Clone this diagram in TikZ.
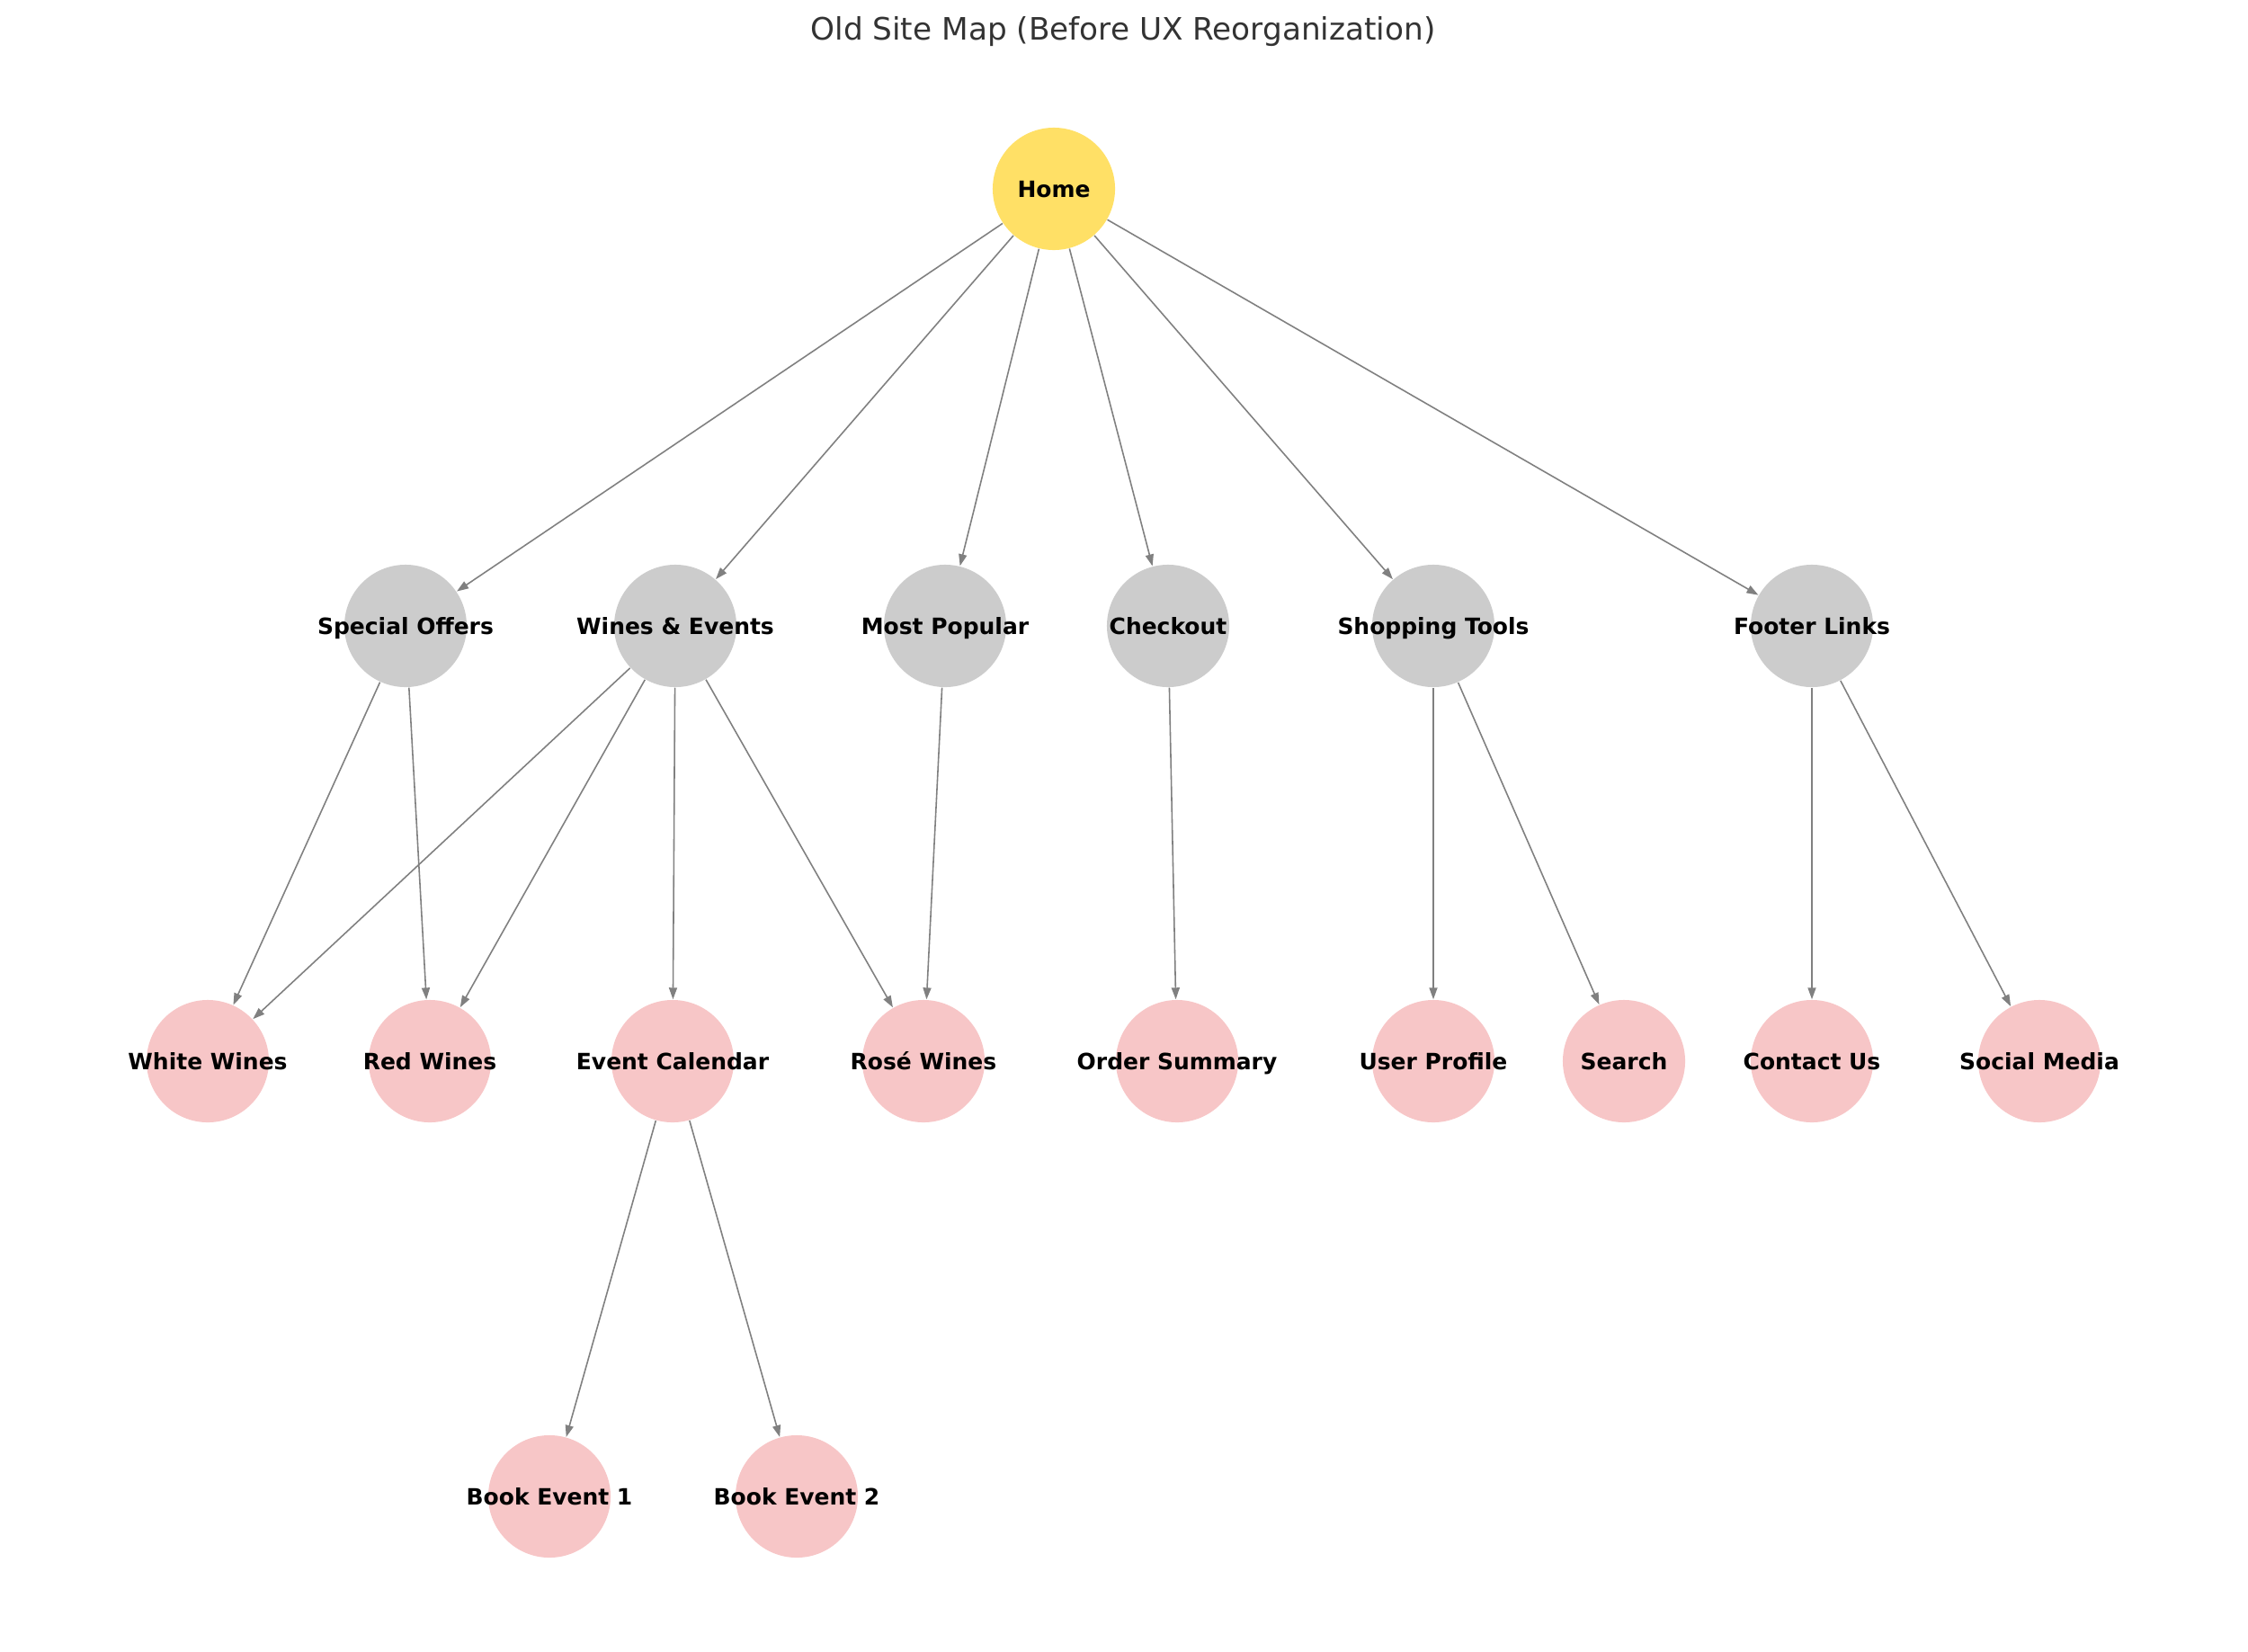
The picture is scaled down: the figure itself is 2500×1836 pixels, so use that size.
\documentclass[tikz,border=0pt]{standalone}
\usepackage{fontspec}
\setmainfont{DejaVu Sans}
\usetikzlibrary{arrows.meta}
\definecolor{homeY}{RGB}{255,224,102}
\definecolor{midG}{RGB}{204,204,204}
\definecolor{leafP}{RGB}{247,198,199}
\definecolor{edgeG}{RGB}{128,128,128}
\definecolor{titleC}{RGB}{51,51,51}
\tikzset{
  pg/.style={circle, minimum size=1.36cm, inner sep=0pt, draw=none, fill=#1},
  every label/.style={font=\fontsize{7.1pt}{8pt}\selectfont\bfseries, text=black,
    inner sep=0pt, text height=2.3mm, text depth=0.35mm},
  link/.style={draw=edgeG, line width=0.45pt, -{Triangle[length=0.13cm, width=0.09cm]}},
}
\begin{document}
\begin{tikzpicture}[x=0.01cm, y=-0.01cm]
\useasboundingbox (0,0) rectangle (2500,1836);
\node[font=\fontsize{9.75pt}{12pt}\selectfont, text=titleC] (title) at (1249,35) {Old Site Map (Before UX Reorganization)};
\node[pg=homeY, label=center:Home] (home) at (1172,210) {};
\node[pg=midG, label=center:Special Offers] (so) at (451,696) {};
\node[pg=midG, label=center:Wines \& Events] (we) at (751,696) {};
\node[pg=midG, label=center:Most Popular] (mp) at (1051,696) {};
\node[pg=midG, label=center:Checkout] (co) at (1299,696) {};
\node[pg=midG, label=center:Shopping Tools] (st) at (1594,696) {};
\node[pg=midG, label=center:Footer Links] (fl) at (2015,696) {};
\node[pg=leafP, label=center:White Wines] (ww) at (231,1180) {};
\node[pg=leafP, label=center:Red Wines] (rw) at (478,1180) {};
\node[pg=leafP, label=center:Event Calendar] (ec) at (748,1180) {};
\node[pg=leafP, label=center:Rosé Wines] (rose) at (1027,1180) {};
\node[pg=leafP, label=center:Order Summary] (os) at (1309,1180) {};
\node[pg=leafP, label=center:User Profile] (up) at (1594,1180) {};
\node[pg=leafP, label=center:Search] (se) at (1806,1180) {};
\node[pg=leafP, label=center:Contact Us] (cu) at (2015,1180) {};
\node[pg=leafP, label=center:Social Media] (sm) at (2268,1180) {};
\node[pg=leafP, label=center:Book Event 1] (b1) at (611,1664) {};
\node[pg=leafP, label=center:Book Event 2] (b2) at (886,1664) {};
\foreach \t in {so,we,mp,co,st,fl} \draw[link] (home) -- (\t);
\draw[link] (so) -- (ww);
\draw[link] (so) -- (rw);
\draw[link] (we) -- (ww);
\draw[link] (we) -- (rw);
\draw[link] (we) -- (ec);
\draw[link] (we) -- (rose);
\draw[link] (mp) -- (rose);
\draw[link] (co) -- (os);
\draw[link] (st) -- (up);
\draw[link] (st) -- (se);
\draw[link] (fl) -- (cu);
\draw[link] (fl) -- (sm);
\draw[link] (ec) -- (b1);
\draw[link] (ec) -- (b2);
\end{tikzpicture}
\end{document}
